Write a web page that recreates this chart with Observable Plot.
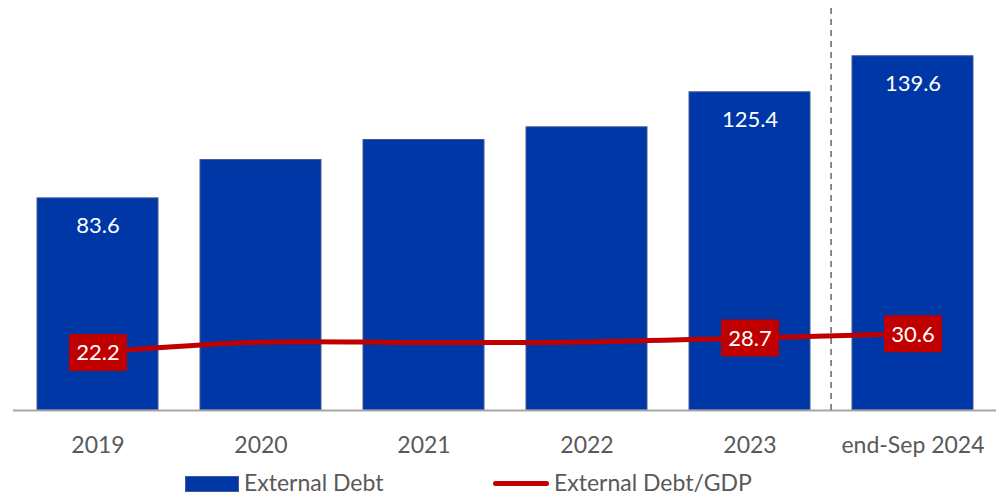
<!DOCTYPE html>
<html><head><meta charset="utf-8">
<script src="https://cdn.jsdelivr.net/npm/d3@7"></script>
<script src="https://cdn.jsdelivr.net/npm/@observablehq/plot@0.6"></script>
<style>
body{margin:0;background:#fff;font-family:Lato,"Open Sans",sans-serif;}
#wrap{position:relative;width:1002px;height:498px;overflow:hidden;}
#wrap svg{position:absolute;left:0;top:0;background:transparent;}
.leg{position:absolute;font-size:23px;color:#595959;line-height:1;white-space:nowrap;}
</style></head><body>
<div id="wrap"></div>
<script>
const periods = ["2019", "2020", "2021", "2022", "2023", "end-Sep 2024"];
const externalDebt = [83.6, 98.7, 106.6, 111.6, 125.4, 139.6];
const debtToGdp = [22.2, 26.8, 26.6, 26.9, 28.7, 30.6];
const showDebtLabel = [true, false, false, false, true, true];
const showRatioLabel = [true, false, false, false, true, true];
const seriesNames = ["External Debt", "External Debt/GDP"];

const blue = "#0037A6", red = "#C00000", grey = "#595959";
const W = 1002, H = 465, mL = 13, mR = 6, mT = 4, mB = 55;
const rows = periods.map((p, i) => ({period: p, debt: externalDebt[i], ratio: debtToGdp[i], dl: showDebtLabel[i], rl: showRatioLabel[i]}));
const step = (W - mL - mR) / periods.length;

const common = {width: W, height: H, marginLeft: mL, marginRight: mR, marginTop: mT, marginBottom: mB,
  style: {fontFamily: "Lato, 'Open Sans', sans-serif", background: "transparent", overflow: "visible"}};
const xScale = {type: "band", domain: periods, paddingInner: 0.26, paddingOuter: 0.13};

const bars = Plot.plot({
  ...common,
  x: {...xScale, label: null},
  y: {domain: [0, 160], axis: null},
  marks: [
    Plot.barY(rows, {x: "period", y: "debt", fill: blue, stroke: "#44589a", strokeWidth: 1}),
    Plot.ruleY([0], {stroke: "#a6a6a6", strokeWidth: 2}),
    Plot.ruleX([periods[5]], {y1: 0, y2: 160, dx: -step / 2, stroke: "#666", strokeWidth: 1.5, strokeDasharray: "6,5"}),
    Plot.text(rows.filter(d => d.dl), {x: "period", y: "debt", text: d => d.debt.toFixed(1), dy: 28, fill: "white", fontSize: 22}),
    Plot.axisX({tickSize: 0, tickPadding: 26, fontSize: 23, color: grey, label: null})
  ]
});

const rectSymbol = {draw(ctx) { ctx.rect(-29, -18.5, 58, 37); }};
const line = Plot.plot({
  ...common,
  x: {...xScale, axis: null},
  y: {domain: [-3.9, 178.5], axis: null},
  marks: [
    Plot.line(rows, {x: "period", y: "ratio", stroke: red, strokeWidth: 5, curve: "catmull-rom"}),
    Plot.dot(rows.filter(d => d.rl), {x: "period", y: "ratio", symbol: rectSymbol, fill: red, stroke: null}),
    Plot.text(rows.filter(d => d.rl), {x: "period", y: "ratio", text: d => d.ratio.toFixed(1), fill: "white", fontSize: 22, dy: 1})
  ]
});

const wrap = document.getElementById("wrap");
wrap.append(bars, line);

const legend = [
  {html: `<div style="position:absolute;left:185px;top:476px;width:54px;height:16px;background:${blue};border:1px solid #44589a;box-sizing:border-box"></div>`},
  {html: `<div class="leg" style="left:244px;top:471px">${seriesNames[0]}</div>`},
  {html: `<div style="position:absolute;left:493px;top:481px;width:56px;height:5px;border-radius:3px;background:${red}"></div>`},
  {html: `<div class="leg" style="left:554px;top:471px">${seriesNames[1]}</div>`}
];
wrap.insertAdjacentHTML("beforeend", legend.map(d => d.html).join(""));
</script>
</body></html>
